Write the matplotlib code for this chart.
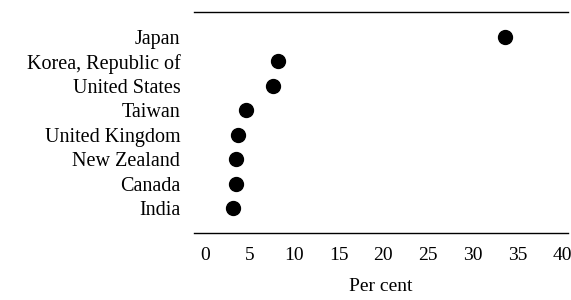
import matplotlib.pyplot as plt

countries = ['Japan', 'Korea, Republic of', 'United States', 'Taiwan',
             'United Kingdom', 'New Zealand', 'Canada', 'India']
per_cent = [33.6, 8.2, 7.6, 4.6, 3.7, 3.5, 3.5, 3.2]
xticks = [0, 5, 10, 15, 20, 25, 30, 35, 40]

plt.rcParams['font.family'] = ['Liberation Serif', 'DejaVu Serif']

fig = plt.figure(figsize=(5.71, 3.0), dpi=100)
ax = fig.add_axes([0.34, 0.223, 0.655, 0.737])

rows = list(range(len(countries)))
ax.plot(per_cent, rows, 'o', color='black', markersize=10, clip_on=False)

ax.set_xlim(-1.2, 40.7)
ax.set_ylim(len(countries) + 0.02, -1.02)
ax.set_yticks(rows)
ax.set_yticklabels(countries, fontsize=14.5)
ax.set_xticks(xticks)
ax.set_xticklabels([str(t) for t in xticks], fontsize=14)
ax.tick_params(axis='both', length=0)
ax.tick_params(axis='y', pad=10)
ax.tick_params(axis='x', pad=10)
ax.set_xlabel('Per cent', fontsize=14, labelpad=10)

for side in ['left', 'right']:
    ax.spines[side].set_visible(False)
for side in ['top', 'bottom']:
    ax.spines[side].set_linewidth(1.0)

fig.savefig('out.png', dpi=100)
